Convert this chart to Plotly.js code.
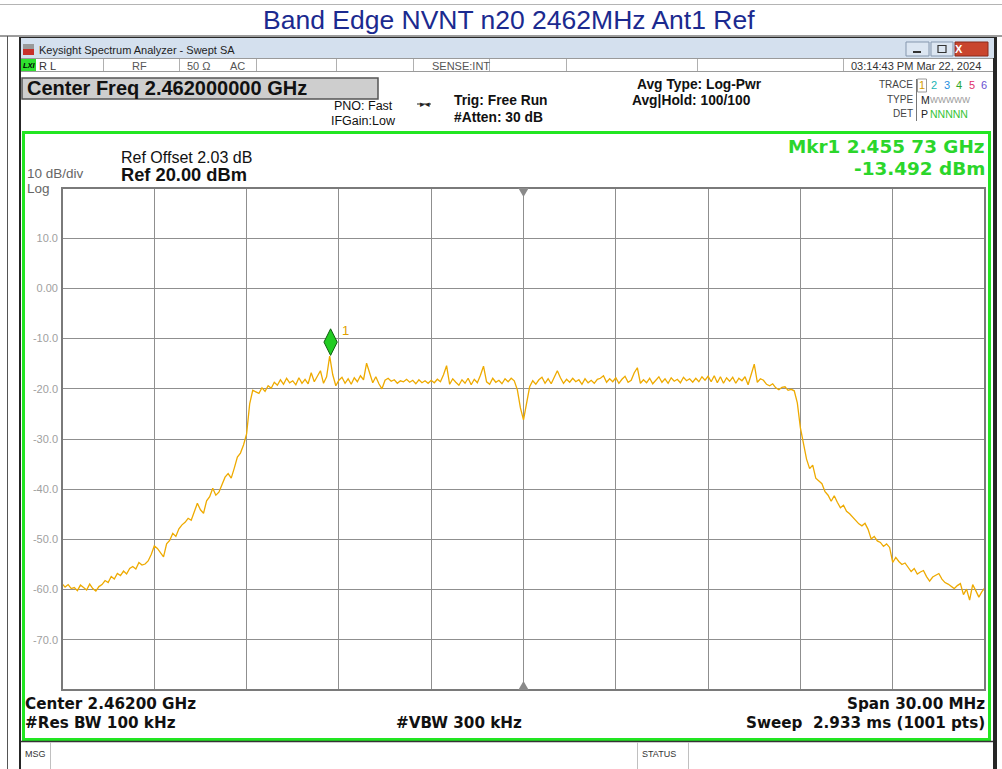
<!DOCTYPE html>
<html>
<head>
<meta charset="utf-8">
<script src="https://cdn.plot.ly/plotly-3.0.1.min.js"></script>
<style>
html,body{margin:0;padding:0;background:#fff;overflow:hidden;}
#chart{width:1002px;height:769px;}
</style>
</head>
<body>
<div id="chart"></div>
<script>
// ---- instrument settings ----
const centerMHz = 2462;
const spanMHz = 30;
const refLevel = 20;
const dbPerDiv = 10;
const markerMHz = 2455.73;
const markerDbm = -13.492;

const lowerSkirt = [-58.8,-59.5,-59.0,-59.8,-59.6,-60.2,-59.1,-59.7,-60.1,-58.9,
  -59.8,-60.3,-59.4,-59.0,-58.2,-58.6,-57.4,-57.9,-56.8,-57.2,
  -56.3,-56.9,-55.8,-55.4,-55.9,-54.6,-55.1,-54.9,-54.3,-53.0,-51.3];
const risingEdge = [-51.8,-52.6,-53.5,-50.9,-50.2,-48.8,-49.4,-47.9,-47.1,-46.6,
  -45.8,-46.2,-44.5,-42.8,-44.1,-44.8,-42.3,-41.5,-39.8,-41.2,
  -40.6,-38.9,-37.6,-36.9,-37.8,-35.8,-33.6,-32.8,-31.2,-29.0,
  -23.0,-20.3,-20.6,-20.9];
const inBand = [-19.8,-20.5,-19.4,-19.9,-18.7,-19.3,-18.2,-19.1,-17.9,-18.8,
  -18.4,-19.2,-17.8,-18.9,-18.1,-19.0,-16.8,-18.6,-17.5,-16.4,
  -18.9,-17.6,-13.5,-17.2,-19.4,-18.3,-17.7,-18.9,-18.0,-19.1,
  -17.8,-18.6,-17.4,-18.2,-14.9,-17.1,-18.8,-17.6,-19.0,-20.0,
  -18.3,-17.9,-18.5,-18.2,-18.9,-18.4,-18.6,-18.1,-18.7,-18.3,
  -19.0,-18.2,-18.8,-18.4,-18.9,-18.3,-18.8,-18.1,-18.6,-17.2,
  -15.4,-19.1,-18.0,-18.7,-19.3,-18.2,-18.9,-17.9,-19.2,-18.1,
  -18.8,-17.3,-15.5,-18.6,-19.1,-17.9,-18.7,-18.3,-19.0,-18.0,
  -18.6,-17.9,-18.4,-20.2,-23.8,-26.2,-22.9,-19.6,-18.4,-19.1,
  -18.2,-17.7,-18.9,-18.0,-19.0,-17.6,-16.4,-17.8,-18.9,-18.1,
  -18.7,-17.9,-18.6,-18.2,-19.1,-18.0,-18.8,-18.3,-18.9,-18.1,
  -17.9,-17.4,-18.7,-18.0,-18.6,-17.8,-18.9,-18.1,-17.5,-18.7,
  -18.3,-16.8,-15.8,-18.9,-18.2,-18.8,-17.9,-19.0,-18.2,-17.6,
  -18.7,-18.0,-18.9,-17.8,-18.5,-18.1,-18.8,-17.7,-18.4,-18.0,
  -18.7,-17.9,-18.6,-17.6,-18.3,-17.5,-18.6,-17.4,-18.8,-17.6,
  -18.9,-17.8,-18.5,-17.7,-18.9,-17.9,-18.4,-17.6,-19.2,-17.3,
  -15.1,-18.7,-18.0,-18.3,-19.1,-19.4,-19.0,-19.8,-20.2,-19.7];
const fallingEdge = [-19.6,-20.3,-20.1,-20.4,-22.8,-27.8,-31.2,-34.0,-35.9,-35.2,
  -37.8,-38.4,-38.9,-40.5,-41.2,-42.4,-41.3,-42.6,-43.7,-43.2,
  -44.4,-44.9,-45.6,-46.1,-46.9,-47.3,-46.8,-48.0,-49.9,-49.4,
  -50.3,-50.6,-51.4,-50.9,-51.6,-54.6,-53.6,-54.4,-55.0,-54.7,
  -55.6,-56.4,-55.8,-56.9,-56.5,-56.2,-57.4,-58.3,-57.5,-57.1,
  -56.8,-57.9,-58.6,-58.9,-59.3,-59.8,-59.2,-58.8,-61.0,-59.9,
  -62.1,-59.0,-60.2,-61.5,-60.4,-59.6];

const yTickVals = [10, 0, -10, -20, -30, -40, -50, -60, -70];
const yTickText = ['10.0', '0.00', '-10.0', '-20.0', '-30.0', '-40.0', '-50.0', '-60.0', '-70.0'];

const amps = lowerSkirt.concat(risingEdge, inBand, fallingEdge);
const startMHz = centerMHz - spanMHz / 2;
const stopMHz = centerMHz + spanMHz / 2;
const freqs = amps.map((_, i) => startMHz + i * spanMHz / (amps.length - 1));
const bottomLevel = refLevel - 10 * dbPerDiv;

// ---- pixel helpers for chrome (plot area 62..985 x 188..690) ----
const PL = 62, PR = 985, PT = 188, PB = 690;
const X = px => (px - PL) / (PR - PL);
const Y = py => (PB - py) / (PB - PT);
const FONT = 'Liberation Sans, Arial, sans-serif';
const WIDE = 'DejaVu Sans, Verdana, sans-serif';

function R(x0, y0, x1, y1, fill, lc, lw, layer) {
  return {type:'rect', xref:'paper', yref:'paper', x0:X(x0), x1:X(x1), y0:Y(y0), y1:Y(y1),
    fillcolor: fill || 'rgba(0,0,0,0)', line:{color: lc || 'rgba(0,0,0,0)', width: lw || 0}, layer: layer || 'below'};
}
function L(x0, y0, x1, y1, c, w, layer) {
  return {type:'line', xref:'paper', yref:'paper', x0:X(x0), x1:X(x1), y0:Y(y0), y1:Y(y1),
    line:{color:c, width:w || 1}, layer: layer || 'below'};
}
function T(x, y, text, o) {
  o = o || {};
  return {xref:'paper', yref:'paper', x:X(x), y:Y(y), text:text, showarrow:false,
    xanchor:o.anchor || 'left', yanchor:'middle', borderpad:0,
    font:{family:o.family || FONT, size:o.size || 12, color:o.color || '#000'}};
}

const shapes = [
  L(0, 4.5, 1002, 4.5, '#b4b4b4', 1),
  L(0, 36, 1002, 36, '#3a3a3a', 1),
  L(7.5, 36, 7.5, 769, '#555', 1),
  R(19, 37, 997, 769, '#262626'),
  R(21, 38, 994, 58, '#d4e0ee'),
  R(21, 58, 993, 769, '#ffffff'),
  // status row
  L(21, 58.5, 993, 58.5, '#9a9a9a', 1),
  L(21, 71.5, 993, 71.5, '#9a9a9a', 1),
  R(21, 59, 36, 71, '#2fe02f'),
  // center freq box
  R(22, 78, 378, 99, '#cecece', '#555', 1.5),
  // trace table
  R(917.5, 79, 926.5, 92, 'rgba(0,0,0,0)', '#999', 1),
  L(916.5, 79, 916.5, 121, '#777', 1),
  // green frame
  R(23.5, 132.5, 989.5, 739.5, '#ffffff', '#22e622', 3),
  // msg bar
  L(21, 741.5, 993, 741.5, '#333', 1.5),
  L(50.5, 742, 50.5, 769, '#c0c0c0', 1),
  L(637.5, 742, 637.5, 769, '#c0c0c0', 1),
  L(688.5, 742, 688.5, 769, '#c0c0c0', 1),
  // window title bar icon
  R(23, 44, 34, 49, '#9a9a9a'),
  R(23, 49, 34, 55, '#c8302a'),
  // window buttons
  R(906, 42, 929, 56, '#dce6f2', '#8597ae', 1),
  L(913, 52, 921, 52, '#333', 2),
  R(931, 42, 953, 56, '#dce6f2', '#8597ae', 1),
  R(938, 45.5, 946, 52.5, 'rgba(0,0,0,0)', '#333', 1.2),
  R(955, 42, 988, 56, '#c9452e', '#8a2a1a', 1),
  // pno arrow
  L(417, 104, 431, 104, '#222', 1),
  // plot border
  {type:'rect', xref:'paper', yref:'paper', x0:0, x1:1, y0:0, y1:1, line:{color:'#7a7a7a', width:2}, layer:'above'},
  // centre triangles
  {type:'path', xref:'x', yref:'y', path:`M${centerMHz-0.17},${refLevel} L${centerMHz+0.17},${refLevel} L${centerMHz},${refLevel-1.8} Z`,
    fillcolor:'#8a8a8a', line:{width:0}, layer:'above'},
  {type:'path', xref:'x', yref:'y', path:`M${centerMHz-0.17},${bottomLevel} L${centerMHz+0.17},${bottomLevel} L${centerMHz},${bottomLevel+1.8} Z`,
    fillcolor:'#8a8a8a', line:{width:0}, layer:'above'}
];

// status row separators
[103, 179, 256, 336, 413, 489, 566, 697, 843].forEach(x => shapes.push(L(x + 0.5, 59, x + 0.5, 71, '#b0b0b0', 1)));

const traceNums = ['1', '2', '3', '4', '5', '6'];
const traceCols = ['#d49a00', '#18b4b4', '#1e90e0', '#2aa62a', '#e0306a', '#6a4fd0'];

const annotations = [
  T(508.5, 20, 'Band Edge NVNT n20 2462MHz Ant1 Ref', {anchor:'center', size:26.5, color:'#1b2a8f'}),
  T(38, 50, 'Keysight Spectrum Analyzer - Swept SA', {size:11, color:'#1e1e1e'}),
  T(21.5, 65.5, '<b><i>LXI</i></b>', {size:7.5, color:'#000'}),
  T(38, 65.5, 'R L', {size:11, color:'#333'}),
  T(131, 65.5, 'RF', {size:11, color:'#555'}),
  T(186, 65.5, '50 \u03A9', {size:11, color:'#555'}),
  T(229, 65.5, 'AC', {size:11, color:'#555'}),
  T(431, 65.5, 'SENSE:INT', {size:11, color:'#555'}),
  T(982, 65.5, '03:14:43 PM Mar 22, 2024', {anchor:'right', size:11, color:'#333'}),
  T(958.5, 49, '<b>X</b>', {anchor:'center', size:11, color:'#ffffff'}),
  T(26, 88.5, '<b>Center Freq 2.462000000 GHz</b>', {size:20, color:'#111'}),
  T(333, 106, 'PNO: Fast', {size:12.5, color:'#111'}),
  T(330, 121, 'IFGain:Low', {size:12.5, color:'#111'}),
  T(422, 104, '\u25B8', {anchor:'center', size:9, color:'#222'}),
  T(427, 104, '\u25C2', {anchor:'center', size:9, color:'#222'}),
  T(453, 101, '<b>Trig: Free Run</b>', {size:13.8, color:'#111'}),
  T(453, 118, '<b>#Atten: 30 dB</b>', {size:13.8, color:'#111'}),
  T(636, 85, '<b>Avg Type: Log-Pwr</b>', {size:13.8, color:'#111'}),
  T(631, 101, '<b>Avg|Hold: 100/100</b>', {size:13.8, color:'#111'}),
  T(914, 85, 'TRACE', {anchor:'right', size:10, color:'#444'}),
  T(914, 100, 'TYPE', {anchor:'right', size:10, color:'#444'}),
  T(914, 114, 'DET', {anchor:'right', size:10, color:'#444'}),
  T(920, 100, 'M', {size:10.5, color:'#222'}),
  T(929, 100, 'WWWWW', {size:8.5, color:'#999'}),
  T(920, 114, 'P', {size:10.5, color:'#222'}),
  T(929, 114, 'NNNNN', {size:10.5, color:'#36c436'}),
  T(120, 157, 'Ref Offset 2.03 dB', {size:16, color:'#111'}),
  T(120, 174.5, '<b>Ref 20.00 dBm</b>', {size:18.3, color:'#111'}),
  T(26, 173, '10 dB/div', {size:13.5, color:'#666'}),
  T(26, 188.8, 'Log', {size:13.5, color:'#666'}),
  T(986, 146.5, '<b>Mkr1 2.455 73 GHz</b>', {anchor:'right', size:18.4, color:'#2bd62b', family:WIDE}),
  T(986, 168.5, '<b>' + markerDbm.toFixed(3) + ' dBm</b>', {anchor:'right', size:18.4, color:'#2bd62b', family:WIDE}),
  T(341, 330, '1', {size:13, color:'#e0a000'}),
  T(24, 704, '<b>Center 2.46200 GHz</b>', {size:15.2, color:'#111', family:WIDE}),
  T(24, 722.5, '<b>#Res BW 100 kHz</b>', {size:15.2, color:'#111', family:WIDE}),
  T(395, 722.5, '<b>#VBW 300 kHz</b>', {size:15.2, color:'#111', family:WIDE}),
  T(986, 704, '<b>Span 30.00 MHz</b>', {anchor:'right', size:15.2, color:'#111', family:WIDE}),
  T(986, 722.5, '<b>Sweep \u00A02.933 ms (1001 pts)</b>', {anchor:'right', size:15.2, color:'#111', family:WIDE}),
  T(24, 753.5, 'MSG', {size:9, color:'#333'}),
  T(641, 753.5, 'STATUS', {size:9, color:'#333'})
];
traceNums.forEach((n, i) => annotations.push(T(922 + i * 12.4, 85, n, {anchor:'center', size:11, color:traceCols[i]})));

const data = [
  {x:freqs, y:amps, type:'scatter', mode:'lines', line:{color:'#eeaa00', width:1.3}, hoverinfo:'skip'},
  {x:[markerMHz], y:[-10.7], type:'scatter', mode:'markers', cliponaxis:false,
    marker:{symbol:'diamond-tall', size:19, color:'#22cc22', line:{color:'#0f5f0f', width:1}}, hoverinfo:'skip'}
];

const layout = {
  width:1002, height:769,
  margin:{l:PL, r:1002 - PR, t:PT, b:769 - PB, pad:0},
  paper_bgcolor:'#ffffff', plot_bgcolor:'rgba(0,0,0,0)',
  showlegend:false,
  font:{family:FONT},
  xaxis:{range:[startMHz, stopMHz], tick0:startMHz, dtick:spanMHz / 10, showticklabels:false, ticks:'',
    showgrid:true, gridcolor:'#8f8f8f', gridwidth:1, zeroline:false, showline:false, fixedrange:true},
  yaxis:{range:[bottomLevel, refLevel], tickvals:yTickVals, ticktext:yTickText, ticks:'', ticklabelstandoff:3,
    tickfont:{size:11, color:'#a0a0a0', family:FONT},
    showgrid:true, gridcolor:'#8f8f8f', gridwidth:1, zeroline:false, showline:false, fixedrange:true},
  shapes:shapes,
  annotations:annotations
};

Plotly.newPlot('chart', data, layout, {staticPlot:true, displayModeBar:false});
</script>
</body>
</html>
